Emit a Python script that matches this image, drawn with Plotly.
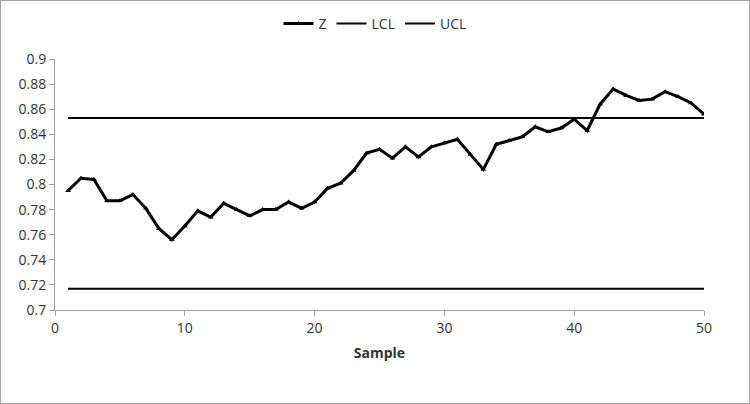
import plotly.graph_objects as go

samples = list(range(1, 51))
z_values = [0.795, 0.805, 0.804, 0.787, 0.787, 0.792, 0.781, 0.765, 0.756, 0.767,
            0.779, 0.774, 0.785, 0.780, 0.775, 0.780, 0.780, 0.786, 0.781, 0.786,
            0.797, 0.801, 0.811, 0.825, 0.828, 0.821, 0.830, 0.822, 0.830, 0.833,
            0.836, 0.824, 0.812, 0.832, 0.835, 0.838, 0.846, 0.842, 0.845, 0.852,
            0.843, 0.864, 0.876, 0.871, 0.867, 0.868, 0.874, 0.870, 0.865, 0.856]
lcl_value = 0.717
ucl_value = 0.853
lcl = [lcl_value] * len(samples)
ucl = [ucl_value] * len(samples)

W, H = 750, 404
ml, mr, mt, mb = 55, 46, 59, 94
pw, ph = W - ml - mr, H - mt - mb

fig = go.Figure()
fig.add_trace(go.Scatter(x=samples, y=z_values, name="Z", mode="lines+markers",
                         line=dict(color="black", width=3),
                         marker=dict(symbol="triangle-up", size=5, color="black")))
fig.add_trace(go.Scatter(x=samples, y=lcl, name="LCL", mode="lines",
                         line=dict(color="black", width=2)))
fig.add_trace(go.Scatter(x=samples, y=ucl, name="UCL", mode="lines",
                         line=dict(color="black", width=2)))

fig.update_layout(
    width=W, height=H,
    margin=dict(l=ml, r=mr, t=mt, b=mb, autoexpand=False),
    paper_bgcolor="white", plot_bgcolor="white",
    font=dict(family="Open Sans, Liberation Sans, sans-serif", size=14, color="#333333"),
    showlegend=True,
    legend=dict(orientation="h", x=0.5, xanchor="center", xref="container",
                y=1 - 24 / H, yanchor="middle", yref="container",
                bgcolor="rgba(0,0,0,0)",
                font=dict(size=14, color="#333333"), traceorder="normal"),
    xaxis=dict(range=[0, 50], tickvals=[0, 10, 20, 30, 40, 50], showgrid=False,
               zeroline=False, showline=True, linecolor="#a0a0a0", linewidth=1,
               ticks="outside", ticklen=5, tickcolor="#a0a0a0",
               title=dict(text="<b>Sample</b>", font=dict(size=14, color="#333333"), standoff=12)),
    yaxis=dict(range=[0.7, 0.9], dtick=0.02, showgrid=False, zeroline=False,
               showline=True, linecolor="#a0a0a0", linewidth=1,
               ticks="outside", ticklen=5, tickcolor="#a0a0a0", tickformat="~g"),
    shapes=[dict(type="rect", xref="paper", yref="paper",
                 x0=(0.5 - ml) / pw, x1=(W - 0.5 - ml) / pw,
                 y0=-(H - 0.5 - (mt + ph)) / ph, y1=(mt - 0.5) / ph + 1,
                 line=dict(color="#a0a0a0", width=1), layer="below")],
)

fig.write_html("out.html", config={"displayModeBar": False},
               post_script="document.body.style.margin='0';document.body.style.overflow='hidden';")
